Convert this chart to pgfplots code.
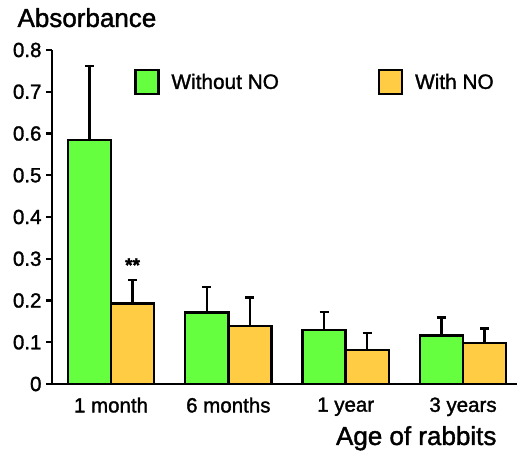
\documentclass[border=0pt]{standalone}
\usepackage{fontspec}
\setmainfont{Liberation Sans}[FakeBold=1.5]
\usepackage{pgfplots}
\pgfplotsset{compat=1.18}
\definecolor{barg}{HTML}{66FF40}
\definecolor{baro}{HTML}{FFCC44}
\begin{document}
\begin{tikzpicture}
\useasboundingbox (-52pt,-69pt) rectangle (471pt,384pt);
\begin{axis}[
  scale only axis, width=465pt, height=334pt,
  xmin=-0.503, xmax=3.46, ymin=0, ymax=0.8,
  axis x line*=bottom, axis y line*=left,
  axis line style={-, line width=2.4pt},
  clip=false,
  ybar, bar width=0.367,
  xtick={0,1,2,3},
  xticklabels={1 month,6 months,1 year,3 years},
  x tick style={draw=none},
  ytick={0,0.1,0.2,0.3,0.4,0.5,0.6,0.7,0.8},
  yticklabels={0,0.1,0.2,0.3,0.4,0.5,0.6,0.7,0.8},
  y tick style={line width=2.4pt, black},
  tick align=outside, major tick length=6pt,
  /pgf/number format/assume math mode=true,
  tick label style={font=\fontsize{20.5}{24}\selectfont},
  xticklabel style={yshift=-4pt},
  yticklabel style={xshift=-1pt},
  xlabel={Age of rabbits},
  ylabel={Absorbance},
  label style={font=\fontsize{26}{31}\selectfont},
  xlabel style={at={(rel axis cs:0.9634,-0.1826)}, anchor=base east},
  ylabel style={at={(rel axis cs:-0.0817,1.069)}, anchor=base west, rotate=-90},
  legend columns=2,
  legend style={draw=none, fill=none, at={(rel axis cs:0.17,0.95)}, anchor=north west,
    font=\fontsize{20.8}{24}\selectfont,
    /tikz/every even column/.append style={column sep=97pt}},
  legend image code/.code={\draw[#1, line width=2.4pt] (0pt,-12pt) rectangle (23pt,12pt); \path[draw=none, fill=none] (0pt,0pt) -- (34pt,0pt);},
  error bars/y dir=plus, error bars/y explicit,
  error bars/error bar style={line width=2.4pt, black},
  error bars/error mark options={rotate=90, mark size=4.5pt, line width=2.4pt, black},
]
\addplot[fill=barg, draw=black, line width=2.4pt, bar shift=-0.1835]
  coordinates {(0,0.584) +- (0,0.178) (1,0.171) +- (0,0.061) (2,0.129) +- (0,0.043) (3,0.116) +- (0,0.043)};
\addplot[fill=baro, draw=black, line width=2.4pt, bar shift=0.1835]
  coordinates {(0,0.193) +- (0,0.056) (1,0.139) +- (0,0.068) (2,0.082) +- (0,0.040) (3,0.098) +- (0,0.035)};
\legend{Without NO, With NO}
\node[font=\fontsize{19}{22}\selectfont\bfseries] at (axis cs:0.1835,0.285) {**};
\end{axis}
\end{tikzpicture}
\end{document}
